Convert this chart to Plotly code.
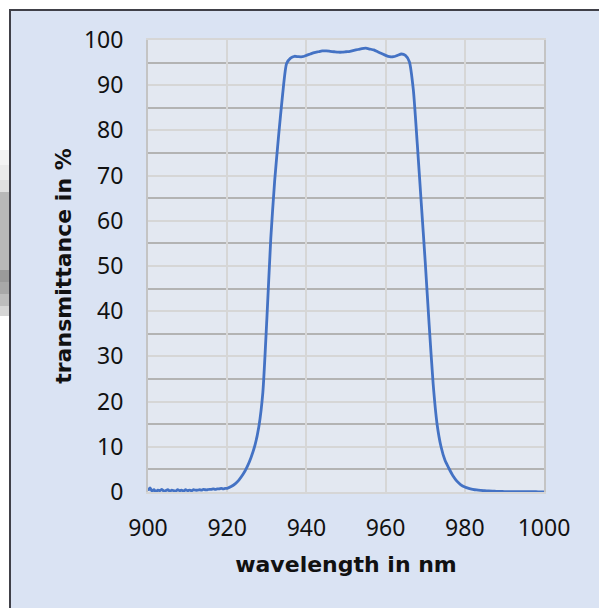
import plotly.graph_objects as go

# ---------------- data ----------------
wavelength_nm = [
    900, 900.5, 901, 901.5, 902, 902.5, 903, 903.5, 904, 904.5,
    905, 905.5, 906, 906.5, 907, 907.5, 908, 908.5, 909, 909.5,
    910, 910.5, 911, 911.5, 912, 912.5, 913, 913.5, 914, 914.5,
    915, 915.5, 916, 916.5, 917, 917.5, 918, 918.5, 919, 919.5,
    920, 921, 922, 923, 924, 925, 926, 927, 928, 929,
    930, 931, 932, 933, 934, 935, 936, 937, 938, 939,
    940, 941, 942, 943, 944, 945, 946, 947, 948, 949,
    950, 951, 952, 953, 954, 955, 956, 957, 958, 959,
    960, 961, 962, 963, 964, 965, 966, 967, 968, 969,
    970, 971, 972, 973, 974, 975, 976, 977, 978, 979,
    980, 981, 982, 983, 984, 985, 986, 987, 988, 989,
    990, 991, 992, 993, 994, 995, 996, 997, 998, 999,
    1000,
]
transmittance_pct = [
    0.3, 0.9, 0.2, 0.5, 0.1, 0.4, 0.3, 0.6, 0.2, 0.3,
    0.5, 0.2, 0.4, 0.3, 0.2, 0.5, 0.3, 0.4, 0.2, 0.5,
    0.3, 0.4, 0.3, 0.5, 0.4, 0.4, 0.5, 0.4, 0.6, 0.5,
    0.5, 0.6, 0.6, 0.7, 0.6, 0.7, 0.7, 0.8, 0.7, 0.8,
    0.8, 1.2, 1.8, 2.7, 3.9, 5.5, 7.6, 10.3, 14.5, 22,
    38, 56, 69, 79, 88, 94.8, 96.0, 96.4, 96.3, 96.3,
    96.6, 96.9, 97.2, 97.4, 97.6, 97.6, 97.5, 97.4, 97.3, 97.3,
    97.4, 97.5, 97.7, 97.9, 98.1, 98.2, 98.0, 97.8, 97.4, 97.0,
    96.6, 96.3, 96.3, 96.6, 96.9, 96.6, 95.2, 89, 77, 64,
    51, 37, 24, 15, 10, 7.0, 5.2, 3.6, 2.4, 1.6,
    1.1, 0.8, 0.6, 0.45, 0.35, 0.28, 0.22, 0.18, 0.15, 0.12,
    0.1, 0.09, 0.08, 0.07, 0.06, 0.06, 0.05, 0.05, 0.05, 0.04,
    0.04,
]
assert len(wavelength_nm) == len(transmittance_pct)

x_ticks = [900, 920, 940, 960, 980, 1000]
y_ticks = [0, 10, 20, 30, 40, 50, 60, 70, 80, 90, 100]

x_title = "wavelength in nm"
y_title = "transmittance in %"

# ---------------- layout geometry ----------------
W, H = 599, 608
L, R, T, B = 148, 55, 40, 116
PW, PH = W - L - R, H - T - B


def px(x):
    return (x - L) / PW


def py(y):
    return (H - B - y) / PH


def rect(x0, y0, x1, y1, color):
    return dict(type="rect", xref="paper", yref="paper", layer="below",
                x0=px(x0), x1=px(x1), y0=py(y1), y1=py(y0),
                fillcolor=color, line=dict(width=0))


fig = go.Figure()
fig.add_trace(go.Scatter(
    x=wavelength_nm, y=transmittance_pct, mode="lines",
    line=dict(color="#4472c4", width=2.8, shape="spline", smoothing=0.6),
    hoverinfo="x+y", showlegend=False,
))

shapes = []
# white page outside chart frame (top + left strips)
shapes.append(rect(0, 0, W, 9, "#ffffff"))
shapes.append(rect(0, 0, 9, H, "#ffffff"))
# grey artefact at far left edge
for (y0, y1, c) in [(150, 165, "#f4f4f4"), (165, 180, "#ebebeb"), (180, 192, "#e0e0e0"),
                    (192, 270, "#b8b8b8"), (270, 282, "#9a9a9a"), (282, 294, "#a8a8a8"),
                    (294, 306, "#bdbdbd"), (306, 316, "#d6d6d6")]:
    shapes.append(rect(0, y0, 9, y1, c))
# dark frame lines (top, left)
shapes.append(rect(9, 9, W, 11, "#404048"))
shapes.append(rect(9, 9, 11, H, "#404048"))

tick_font = dict(family="Noto Sans", size=23, color="#111111")
title_font = dict(family="DejaVu Sans", size=22, color="#111111", weight="bold")

fig.update_layout(
    width=W, height=H,
    margin=dict(l=L, r=R, t=T, b=B, autoexpand=False),
    paper_bgcolor="#dae3f3",
    plot_bgcolor="#e3e8f1",
    shapes=shapes,
    xaxis=dict(
        range=[900, 1000], tickvals=x_ticks, ticktext=[str(v) for v in x_ticks],
        showgrid=True, gridcolor="#d6d6d6", gridwidth=2,
        showline=True, linecolor="#d6d6d6", linewidth=2, mirror=True,
        zeroline=False, ticks="", ticklabelstandoff=14,
        tickfont=tick_font,
        title=dict(text=x_title, font=title_font, standoff=15),
        fixedrange=True,
    ),
    yaxis=dict(
        range=[0, 100], tickvals=y_ticks, ticktext=[str(v) for v in y_ticks],
        showgrid=True, gridcolor="#d6d6d6", gridwidth=2,
        minor=dict(dtick=5, showgrid=True, gridcolor="#b3b3b3", gridwidth=2),
        showline=True, linecolor="#c4c4c4", linewidth=2, mirror=True,
        zeroline=False, ticks="", ticklabelstandoff=18,
        tickfont=tick_font,
        title=dict(text=y_title, font=title_font, standoff=6),
        fixedrange=True,
    ),
)

fig.write_html(
    "out.html",
    config={"displayModeBar": False},
    post_script="document.body.style.margin='0';document.body.style.overflow='hidden';",
)
